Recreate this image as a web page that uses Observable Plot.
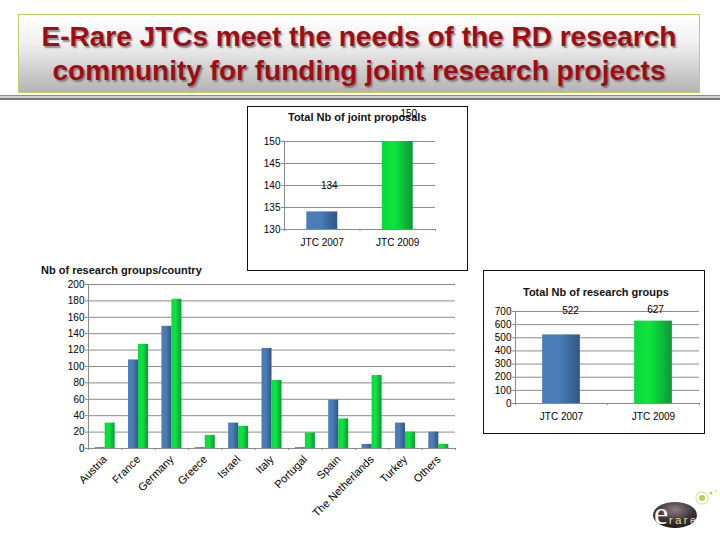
<!DOCTYPE html>
<html>
<head>
<meta charset="utf-8">
<script src="https://cdn.jsdelivr.net/npm/d3@7"></script>
<script src="https://cdn.jsdelivr.net/npm/@observablehq/plot@0.6"></script>
<style>
html,body{margin:0;padding:0;background:#fff}
#page{position:relative;width:720px;height:540px;overflow:hidden;font-family:"Liberation Sans",Arial,sans-serif;color:#000}
#banner{position:absolute;left:18px;top:14px;width:680px;height:77px;border:1px solid #c9cc63;background:linear-gradient(#fff 0%,#f2f2f2 35%,#b4b4b4 100%)}
#banner h1{margin:0;padding-top:5px;text-align:center;font-size:28px;line-height:34px;font-weight:700;color:#a00c12;text-shadow:1.5px 1.5px 1.5px rgba(90,90,90,.65)}
.sep{position:absolute;left:0;width:720px}
.box{position:absolute;border:1px solid #111;box-sizing:border-box}
.slot{position:absolute}
.slot svg{display:block;background:transparent;overflow:visible}
.ttl{position:absolute;font-weight:700;font-size:11px;white-space:nowrap;color:#111}
</style>
</head>
<body>
<svg width="0" height="0" style="position:absolute">
  <defs>
    <linearGradient id="blueBar" x1="0" x2="1" y1="0" y2="0">
      <stop offset="0" stop-color="#4c7db5"/><stop offset="0.45" stop-color="#4a7cb6"/><stop offset="1" stop-color="#2f5783"/>
    </linearGradient>
    <linearGradient id="greenBar" x1="0" x2="1" y1="0" y2="0">
      <stop offset="0" stop-color="#0ad63c"/><stop offset="0.4" stop-color="#0de63f"/><stop offset="1" stop-color="#0a9a35"/>
    </linearGradient>
  </defs>
</svg>
<div id="page">
  <div id="banner"><h1>E-Rare JTCs meet the needs of the RD research<br>community for funding joint research projects</h1></div>
  <div class="sep" style="top:95px;height:1px;background:#8c8c8c"></div>
  <div class="sep" style="top:96px;height:2px;background:#d0d0d0"></div>
  <div class="sep" style="top:98px;height:2px;background:#777"></div>

  <div class="box" style="left:247px;top:106px;width:221px;height:165px"></div>
  <div class="box" style="left:483px;top:270px;width:222px;height:164px"></div>
  <div class="slot" id="proposals" style="left:247px;top:106px"></div>
  <div class="slot" id="country" style="left:30px;top:262px"></div>
  <div class="slot" id="groups" style="left:483px;top:270px"></div>
  <div class="ttl" style="left:288px;top:111px">Total Nb of joint proposals</div>
  <div class="ttl" style="left:41px;top:264px">Nb of research groups/country</div>
  <div class="ttl" style="left:523px;top:286px">Total Nb of research groups</div>

  <svg style="position:absolute;left:648px;top:484px" width="72" height="56" viewBox="0 0 72 56">
    <defs><radialGradient id="logoFill" cx="0.5" cy="0.3" r="0.75"><stop offset="0" stop-color="#8d7d85"/><stop offset="0.55" stop-color="#40343a"/><stop offset="1" stop-color="#1c1618"/></radialGradient></defs>
    <ellipse cx="27" cy="31" rx="22" ry="13" fill="url(#logoFill)"/>
    <circle cx="54" cy="14" r="6" fill="none" stroke="#dfe8b0" stroke-width="1.5"/>
    <circle cx="54" cy="14" r="3" fill="#b9cf55"/>
    <circle cx="63" cy="9" r="1.6" fill="#c4d36a"/>
    <circle cx="68" cy="7" r="1.1" fill="#d5df95"/>
    <text x="6" y="40" font-family="Liberation Serif,serif" font-size="32" fill="#fff">e</text>
    <text x="21" y="40" font-family="Liberation Sans,sans-serif" font-size="11" letter-spacing="2.5" fill="#dbe3a8">rare</text>
  </svg>
</div>
<script>
// ---- data ----
const jtcLabels = ["JTC 2007", "JTC 2009"];
const proposalValues = [134, 150];
const proposalTicks = [130, 135, 140, 145, 150];
const groupValues = [522, 627];
const groupTicks = [0, 100, 200, 300, 400, 500, 600, 700];
const countries = ["Austria", "France", "Germany", "Greece", "Israel", "Italy", "Portugal", "Spain", "The Netherlands", "Turkey", "Others"];
const groups2007 = [1, 108, 149, 1, 31, 122, 1, 59, 5, 31, 20];
const groups2009 = [31, 127, 182, 16, 27, 83, 19, 36, 89, 20, 5];
const countryTicks = [0, 20, 40, 60, 80, 100, 120, 140, 160, 180, 200];

const GRID = "#8b8b8b";
const fillFor = ["url(#blueBar)", "url(#greenBar)"];

function totalChart({values, ticks, base, tickLen, size, margins, padding, labelDx, labelDy, labelAxisPad}) {
  const rows = jtcLabels.map((label, i) => ({label, value: values[i], fill: fillFor[i]}));
  const step = (size.width - margins.marginLeft - margins.marginRight) / jtcLabels.length;
  const lo = ticks[0], hi = ticks[ticks.length - 1];
  const pxPerUnit = (size.height - margins.marginTop - margins.marginBottom) / (hi - lo);
  return Plot.plot({
    ...size, ...margins,
    style: {background: "transparent", fontFamily: "Liberation Sans, Arial, sans-serif", fontSize: "10px", color: "#000"},
    x: {domain: jtcLabels, paddingInner: padding, paddingOuter: padding / 2, round: false},
    y: {domain: [lo, hi]},
    marks: [
      Plot.ruleY(ticks, {stroke: GRID, strokeOpacity: 1}),
      Plot.barY(rows, {x: "label", y1: () => base, y2: "value", fill: "fill"}),
      Plot.ruleX([jtcLabels[0]], {x: d => d, dx: -step / 2, y1: lo, y2: hi, stroke: GRID}),
      Plot.ruleX(jtcLabels, {x: d => d, dx: -step / 2, y1: lo, y2: lo - tickLen / pxPerUnit, stroke: GRID}),
      Plot.ruleX([jtcLabels[1]], {x: d => d, dx: step / 2, y1: lo, y2: lo - tickLen / pxPerUnit, stroke: GRID}),
      Plot.axisY({ticks, tickSize: 3, tickPadding: 1, stroke: GRID, fill: "#000", label: null, fontSize: 10, tickFormat: d => d}),
      Plot.axisX({tickSize: 0, tickPadding: labelAxisPad, fill: "#000", label: null, fontSize: 10}),
      Plot.text(rows.slice(0, 1), {x: "label", y: "value", text: "value", dx: labelDx[0], dy: labelDy[0], fill: "#000", fontSize: 10}),
      Plot.text(rows.slice(1), {x: "label", y: "value", text: "value", dx: labelDx[1], dy: labelDy[1], fill: "#000", fontSize: 10})
    ]
  });
}

document.getElementById("proposals").append(totalChart({
  values: proposalValues, ticks: proposalTicks, base: 130, tickLen: 2,
  size: {width: 220, height: 164},
  margins: {marginLeft: 37, marginRight: 32, marginTop: 35, marginBottom: 41},
  padding: 0.59, labelDx: [7, 11], labelDy: [-26, -28], labelAxisPad: 9
}));

document.getElementById("groups").append(totalChart({
  values: groupValues, ticks: groupTicks, base: 0, tickLen: 2,
  size: {width: 221, height: 163},
  margins: {marginLeft: 32, marginRight: 5, marginTop: 41, marginBottom: 30},
  padding: 0.59, labelDx: [9, 2], labelDy: [-24, -11], labelAxisPad: 9
}));

// country chart: two side-by-side bars inside each band
const step = (440 - 58 - 15) / countries.length;
const pairWidth = 20;
const pairPad = 1 - pairWidth / step;
const rows07 = countries.map((c, i) => ({c, v: groups2007[i]}));
const rows09 = countries.map((c, i) => ({c, v: groups2009[i]}));
document.getElementById("country").append(Plot.plot({
  width: 440, height: 270,
  marginLeft: 58, marginRight: 15, marginTop: 22, marginBottom: 84,
  style: {background: "transparent", fontFamily: "Liberation Sans, Arial, sans-serif", fontSize: "10px", color: "#000"},
  x: {domain: countries, paddingInner: pairPad, paddingOuter: pairPad / 2, round: false},
  y: {domain: [0, 200]},
  marks: [
    Plot.ruleY(countryTicks, {stroke: GRID}),
    Plot.barY(rows07, {x: "c", y: "v", fill: "url(#blueBar)", insetRight: pairWidth / 2}),
    Plot.barY(rows09, {x: "c", y: "v", fill: "url(#greenBar)", insetLeft: pairWidth / 2}),
    Plot.ruleX([countries[0]], {x: d => d, dx: -step / 2, y1: 0, y2: 200, stroke: GRID}),
    Plot.ruleX(countries, {x: d => d, dx: -step / 2, y1: 0, y2: -2.5, stroke: GRID}),
    Plot.ruleX([countries[10]], {x: d => d, dx: step / 2, y1: 0, y2: -2.5, stroke: GRID}),
    Plot.axisY({ticks: countryTicks, tickSize: 3, tickPadding: 1, stroke: GRID, fill: "#000", label: null, fontSize: 10}),
    Plot.axisX({tickSize: 0, tickPadding: 9, tickRotate: -45, fill: "#000", label: null, fontSize: 11})
  ]
}));
</script>
</body>
</html>
